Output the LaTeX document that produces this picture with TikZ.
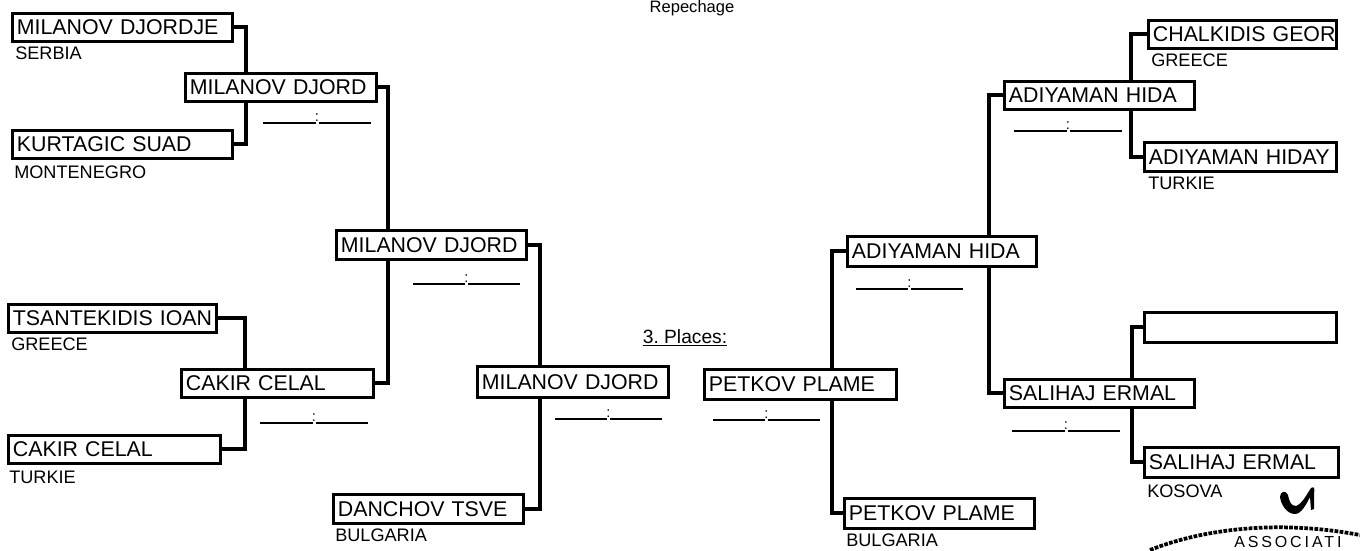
\documentclass[tikz,border=0pt]{standalone}
\usepackage{fontspec}
\setmainfont{Liberation Sans}
\newfontfamily\stampfont[LetterSpace=18]{Liberation Sans}
\usetikzlibrary{backgrounds,calc}
\tikzset{
  namebox/.style={draw=black,line width=1.9pt,fill=white,anchor=north west,inner xsep=3.5pt,inner ysep=0pt,align=left,font=\fontsize{16}{18}\selectfont},
  country/.style={anchor=west,inner sep=0pt,font=\fontsize{13.6}{15}\selectfont},
  conn/.style={draw=black,line width=3.2pt,line join=miter},
  scoreline/.style={draw=black,line width=1.1pt},
  scorecolon/.style={inner sep=0pt,font=\fontsize{11}{12}\selectfont},
  caption/.style={inner sep=0pt,font=\fontsize{12.4}{15}\selectfont}
}
\newcommand{\pbox}[6]{%
  \pgfmathsetmacro\bw{(#4-#2)*0.75}%
  \pgfmathsetmacro\bh{(#5-#3)*0.75}%
  \pgfmathsetmacro\tw{\bw-7}%
  \node[namebox,text width=\tw pt,minimum height=\bh pt] (#1) at (#2,#3) {\mbox{#6}};}
\newcommand{\pscore}[4]{% name, x1, x2, y
  \pgfmathsetmacro\mx{(#2+#3)/2}%
  \coordinate (#1l) at (#2,#4);
  \coordinate (#1r) at (#3,#4);
  \node[scorecolon] (#1) at (\mx,#4-5) {:};
  \draw[scoreline] (#1l) -- ($(#1)+(-1.5,5)$) ($(#1)+(1.5,5)$) -- (#1r);}
\newcommand{\pconn}[3]{\draw[conn] (#1) -- (#1 -| #3) -- (#2 -| #3) -- (#2);}
\begin{document}
\begin{tikzpicture}[x=0.75pt,y=-0.75pt]
\useasboundingbox (0,0) rectangle (1360,550);
\pbox{a1}{11}{12}{231}{40}{MILANOV DJORDJE}
\pbox{a2}{11}{129}{231}{157}{KURTAGIC SUAD}
\pbox{ab}{184}{72}{375}{100}{MILANOV DJORD}
\pbox{c1}{7}{303}{215}{331}{TSANTEKIDIS IOAN}
\pbox{c2}{7}{434}{219}{462}{CAKIR CELAL}
\pbox{cb}{180}{368}{372}{396}{CAKIR CELAL}
\pbox{m}{335}{229}{525}{258}{MILANOV DJORD}
\pbox{d}{332}{493}{522}{522}{DANCHOV TSVE}
\pbox{f}{476}{365}{667}{396}{MILANOV DJORD}
\pbox{p}{703}{368}{895}{398}{PETKOV PLAME}
\pbox{n}{846}{235}{1035}{265}{ADIYAMAN HIDA}
\pbox{q}{843}{497}{1033}{527}{PETKOV PLAME}
\pbox{r}{1003}{80}{1193}{108}{ADIYAMAN HIDA}
\pbox{s}{1003}{378}{1193}{406}{SALIHAJ ERMAL}
\pbox{t1}{1147}{19}{1335}{47}{CHALKIDIS GEOR}
\pbox{t2}{1143}{141}{1335}{170}{ADIYAMAN HIDAY}
\pbox{u1}{1143}{311}{1335}{341}{}
\pbox{u2}{1143}{446}{1337}{476}{SALIHAJ ERMAL}

\begin{pgfonlayer}{background}
\coordinate (ja) at (246,0); \coordinate (jc) at (245,0);
\coordinate (jb) at (388,0); \coordinate (jm) at (540,0);
\coordinate (jn) at (832,0); \coordinate (jr) at (989,0);
\coordinate (jt) at (1131,0); \coordinate (ju) at (1132,0);
\pconn{a1.east}{a2.east}{ja}
\pconn{c1.east}{c2.east}{jc}
\pconn{ab.east}{cb.east}{jb}
\pconn{m.east}{d.east}{jm}
\pconn{n.west}{q.west}{jn}
\pconn{r.west}{s.west}{jr}
\pconn{t1.west}{t2.west}{jt}
\pconn{u1.west}{u2.west}{ju}
\end{pgfonlayer}

\node[country] (l1) at (15,53) {SERBIA};
\node[country] (l2) at (14,172) {MONTENEGRO};
\node[country] (l3) at (11,344) {GREECE};
\node[country] (l4) at (9,477) {TURKIE};
\node[country] (l5) at (335,535) {BULGARIA};
\node[country] (l6) at (846,540) {BULGARIA};
\node[country] (l7) at (1151,60) {GREECE};
\node[country] (l8) at (1148,183) {TURKIE};
\node[country] (l9) at (1147,491) {KOSOVA};

\node[caption] (rep) at (692,8) {Repechage};
\node[caption,font=\fontsize{14.4}{16}\selectfont\frenchspacing] (pl) at (685,338) {\underline{3. Places:}};

\pscore{s1}{263}{371}{123}
\pscore{s2}{413}{520}{284}
\pscore{s3}{260}{368}{423}
\pscore{s4}{555}{662}{419}
\pscore{s5}{713}{820}{420}
\pscore{s6}{856}{963}{289}
\pscore{s7}{1014}{1122}{131}
\pscore{s8}{1012}{1120}{431}

% hand mark and stamp
\fill[black] (1280,497) .. controls (1280,491) and (1286,490) .. (1288,495) .. controls (1289,501) and (1291,506) .. (1296,506) .. controls (1302,504) and (1307,494) .. (1311,488) .. controls (1314,486) and (1315,488) .. (1314,494) -- (1314,509) -- (1311,510) -- (1310,497) .. controls (1306,505) and (1301,514) .. (1295,514) .. controls (1287,514) and (1281,505) .. (1280,497) -- cycle;
\begin{scope}
\clip (1140,510) rectangle (1360,550);
\draw[black,line width=2.8pt,densely dotted] (1150,550) .. controls (1195,532) and (1270,518) .. (1360,535);
\end{scope}
\node[inner sep=0pt,font=\stampfont\fontsize{12}{13}\selectfont,anchor=west] (st) at (1234,542) {ASSOCIATI};
\end{tikzpicture}
\end{document}
